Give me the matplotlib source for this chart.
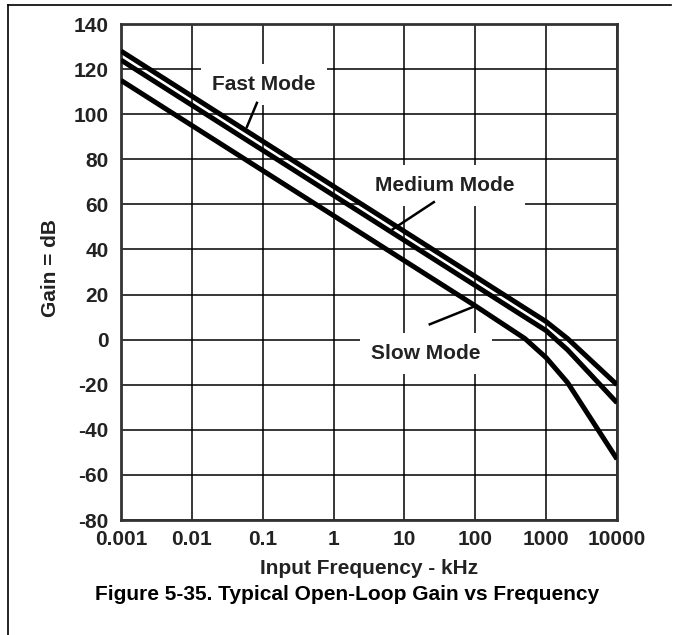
import matplotlib
matplotlib.use("Agg")
import matplotlib.pyplot as plt
from matplotlib.lines import Line2D

plt.rcParams['font.family'] = ['Liberation Sans', 'DejaVu Sans']
plt.rcParams['font.weight'] = 'bold'
plt.rcParams['axes.unicode_minus'] = False

# Data (kHz, dB)
freq = [0.001, 100, 500, 1000, 2000, 10000]
fast_gain = [128, 28, 14, 8, 0.5, -20]
medium_gain = [124, 24, 10, 4, -4.5, -28]
slow_gain = [115, 15, 0.5, -8, -19, -53]

x_ticks = [0.001, 0.01, 0.1, 1, 10, 100, 1000, 10000]
x_tick_labels = ["0.001", "0.01", "0.1", "1", "10", "100", "1000", "10000"]
y_ticks = [-80, -60, -40, -20, 0, 20, 40, 60, 80, 100, 120, 140]

TXT = '#222222'
W, H = 673, 635
fig = plt.figure(figsize=(W / 100, H / 100), dpi=100)
ax = fig.add_axes([121 / W, 1 - 520 / H, 496 / W, 496 / H])

ax.set_xscale('log')
ax.set_xlim(0.001, 10000)
ax.set_ylim(-80, 140)
ax.set_xticks(x_ticks)
ax.set_xticklabels(x_tick_labels)
ax.set_yticks(y_ticks)
ax.minorticks_off()
ax.tick_params(axis='both', length=0, labelsize=15, labelcolor=TXT)
ax.tick_params(axis='x', pad=7)
ax.tick_params(axis='y', pad=9)
for lbl in ax.get_xticklabels() + ax.get_yticklabels():
    lbl.set_fontweight('bold')

ax.grid(True, which='major', color='black', linewidth=1.1, zorder=1)
ax.set_axisbelow(True)
for s in ax.spines.values():
    s.set_linewidth(2.0)
    s.set_color('#333333')

for g in (fast_gain, medium_gain, slow_gain):
    ax.plot(freq, g, color='black', linewidth=3.6, zorder=5, solid_capstyle='butt')

box = dict(facecolor='white', edgecolor='none', pad=8)
ax.text(0.105, 113, "Fast Mode", ha='center', va='center', fontsize=15,
        fontweight='bold', color=TXT, bbox=box, zorder=3)
ax.text(36.5, 68.3, "Medium Mode", ha='center', va='center', fontsize=15,
        fontweight='bold', color=TXT, bbox=box, zorder=3)
ax.text(20, -6.3, "Slow Mode", ha='center', va='center', fontsize=15,
        fontweight='bold', color=TXT, bbox=box, zorder=3)

# leader lines
ax.plot([0.0828, 0.0599], [105, 94.4], color='black', linewidth=1.8, zorder=4)
ax.plot([26, 6.86], [61, 49], color='black', linewidth=1.8, zorder=4)
ax.plot([22.8, 98.4], [6.8, 14.8], color='black', linewidth=1.8, zorder=4)

fig.text(50 / W, 1 - 268 / H, "Gain = dB", rotation=90, ha='center', va='center',
         fontsize=15, fontweight='bold', color=TXT)
fig.text(369 / W, 1 - 569 / H, "Input Frequency - kHz", ha='center', va='center',
         fontsize=15, fontweight='bold', color=TXT)
fig.text(347.5 / W, 1 - 595 / H, "Figure 5-35. Typical Open-Loop Gain vs Frequency",
         ha='center', va='center', fontsize=15, fontweight='bold', color='black')

# page border
fig.add_artist(Line2D([8 / W, 671 / W], [1 - 5 / H, 1 - 5 / H], color='black', linewidth=1.2))
fig.add_artist(Line2D([8 / W, 8 / W], [1 - 5 / H, 0], color='black', linewidth=1.2))

fig.savefig("out.png", dpi=100)
